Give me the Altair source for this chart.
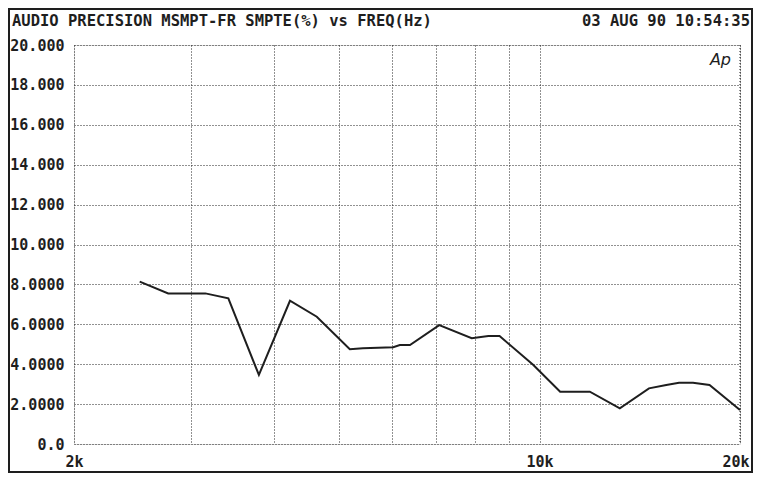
import altair as alt
import pandas as pd

# Data
freq_hz = [2510, 2770, 3150, 3410, 3790, 4220, 4630, 5190, 5430, 6030, 6170, 6390,
           7070, 7910, 8380, 8710, 9790, 10740, 11900, 13200, 14600, 15500, 16200,
           17000, 18000, 20000]
smpte_pct = [8.14, 7.55, 7.55, 7.3, 3.46, 7.18, 6.38, 4.75, 4.8, 4.85, 4.96, 4.96,
             5.96, 5.3, 5.41, 5.41, 3.96, 2.62, 2.62, 1.79, 2.79, 2.96, 3.07,
             3.07, 2.96, 1.7]
x_grid_values = [2000, 3000, 4000, 5000, 6000, 7000, 8000, 9000, 10000, 20000]
y_tick_values = [0, 2, 4, 6, 8, 10, 12, 14, 16, 18, 20]
title_left = "AUDIO PRECISION MSMPT-FR SMPTE(%) vs FREQ(Hz)"
title_right = "03 AUG 90 10:54:35"
logo_text = "Ap"

W, H = 666, 399
FONT = "DejaVu Sans Mono"
INK = "#1e1e1e"
GRID = "#222"

df = pd.DataFrame({"freq": freq_hz, "smpte": smpte_pct})

x_scale = alt.Scale(type="log", domain=[2000, 20000], nice=False)
y_scale = alt.Scale(domain=[0, 20], nice=False)

line = alt.Chart(df).mark_line(color=INK, strokeWidth=2).encode(
    x=alt.X("freq:Q", scale=x_scale, title=None,
            axis=alt.Axis(values=x_grid_values, grid=True, gridDash=[1, 2],
                          gridColor=GRID, gridWidth=1, ticks=False, domain=False,
                          labelExpr="datum.value == 2000 ? '2k' : datum.value == 10000 ? '10k' : datum.value == 20000 ? '20k' : ''",
                          labelAlign={"condition": {"test": "datum.value >= 20000", "value": "right"}, "value": "center"},
                          labelOffset={"condition": {"test": "datum.value >= 20000", "value": 9}, "value": 0},
                          labelFont=FONT, labelFontSize=15, labelFontWeight="bold",
                          labelColor=INK, labelPadding=10, labelFlush=False)),
    y=alt.Y("smpte:Q", scale=y_scale, title=None,
            axis=alt.Axis(values=y_tick_values, grid=True, gridDash=[1, 2],
                          gridColor=GRID, gridWidth=1, ticks=False, domain=False,
                          labelExpr="datum.value == 0 ? '0.0' : datum.value >= 10 ? format(datum.value, '.3f') : format(datum.value, '.4f')",
                          labelFont=FONT, labelFontSize=15, labelFontWeight="bold",
                          labelColor=INK, labelPadding=10, labelFlush=False)),
)

# dotted right border of plot area
right_border = alt.Chart(pd.DataFrame({"v": [0]})).mark_rule(
    color=GRID, strokeDash=[1, 2], strokeWidth=1
).encode(x=alt.value(W), y=alt.value(0), y2=alt.value(H))

# outer frame
frame = alt.Chart(pd.DataFrame({"v": [0]})).mark_rect(
    fill=None, stroke=INK, strokeWidth=2
).encode(x=alt.value(-65), x2=alt.value(678), y=alt.value(-36), y2=alt.value(427))

title_l = alt.Chart(pd.DataFrame({"t": [title_left]})).mark_text(
    font=FONT, fontSize=15.5, fontWeight="bold", color=INK, align="left", baseline="alphabetic"
).encode(x=alt.value(-62), y=alt.value(-19), text="t:N")

title_r = alt.Chart(pd.DataFrame({"t": [title_right]})).mark_text(
    font=FONT, fontSize=15.5, fontWeight="bold", color=INK, align="right", baseline="alphabetic"
).encode(x=alt.value(676), y=alt.value(-19), text="t:N")

logo = alt.Chart(pd.DataFrame({"t": [logo_text]})).mark_text(
    font="DejaVu Sans", fontSize=16, fontStyle="italic", color=INK, align="right", baseline="alphabetic"
).encode(x=alt.value(657), y=alt.value(20), text="t:N")

chart = alt.layer(line, right_border, frame, title_l, title_r, logo).properties(
    width=W, height=H,
    autosize=alt.AutoSizeParams(type="none"),
    padding={"left": 66, "top": 37, "right": 14, "bottom": 30},
).configure_view(stroke=None).configure(background="white")

chart.save("out.html", embed_options={"renderer": "svg", "actions": False})
